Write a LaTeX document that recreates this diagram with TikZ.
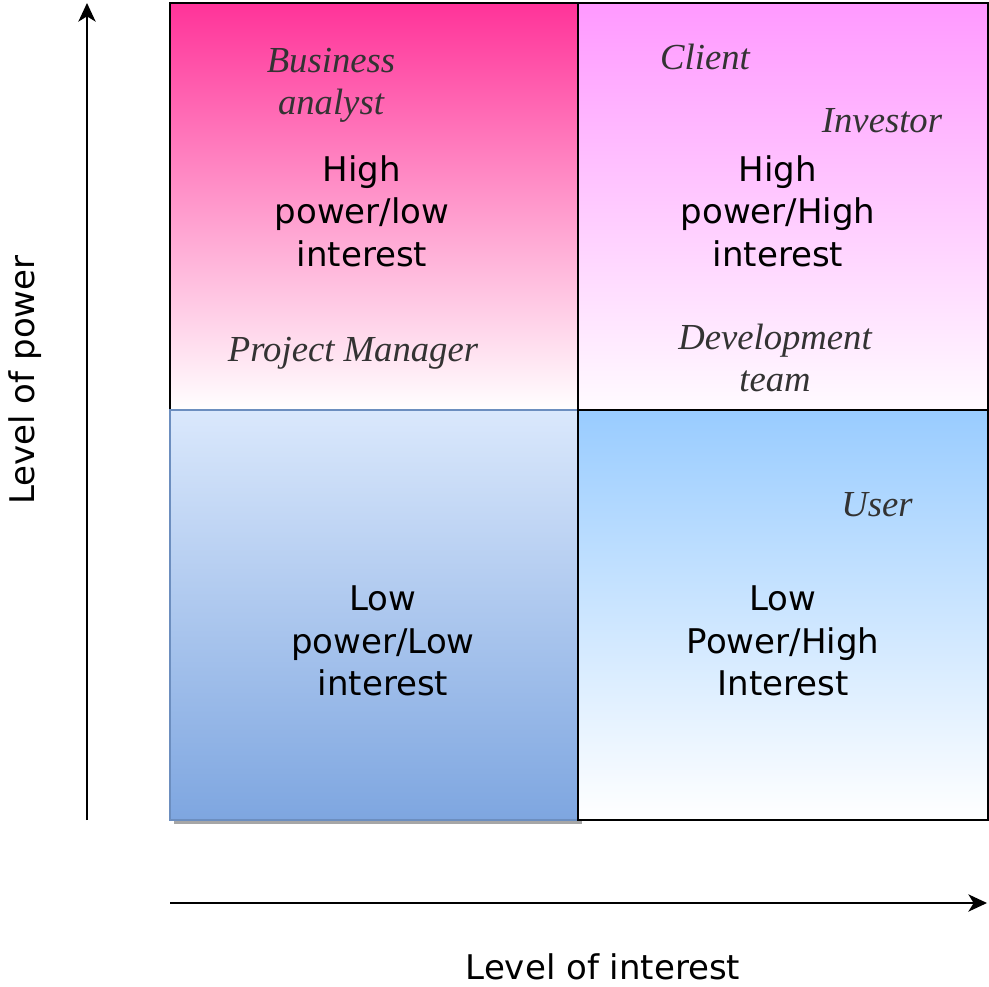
\documentclass[tikz,border=0pt]{standalone}
\usepackage{fontspec}
\setmainfont{Liberation Serif}
\newfontfamily\quadfont{DejaVu Sans}
\usetikzlibrary{arrows.meta}

\definecolor{hotpink}{RGB}{255,51,153}
\definecolor{lilac}{RGB}{255,153,255}
\definecolor{paleblue}{RGB}{218,232,252}
\definecolor{midblue}{RGB}{126,166,224}
\definecolor{edgeblue}{RGB}{108,142,191}
\definecolor{skyblue}{RGB}{153,204,255}
\definecolor{labelgray}{RGB}{51,51,51}

\begin{document}
\begin{tikzpicture}[x=0.75pt,y=-0.75pt,
    quadtext/.style={align=center,font=\quadfont\fontsize{25.5}{32}\selectfont,inner sep=0pt},
    who/.style={align=center,text=labelgray,font=\itshape\fontsize{27.5}{31.5}\selectfont,inner sep=0pt},
    axisline/.style={line width=1.1pt,-{Stealth[length=14pt,width=13pt,inset=4pt]}}]
    \useasboundingbox (0,0) rectangle (989,986);

    % Draw the four quadrants
    \shade[top color=hotpink,bottom color=white,draw=black,line width=1pt] (170,3) rectangle (578,410);
    \shade[top color=lilac,bottom color=white!96!lilac,draw=black,line width=1pt] (578,3) rectangle (988,410);
    \fill[black!35] (174,414) rectangle (582,824);
    \shade[top color=paleblue,bottom color=midblue,draw=edgeblue,line width=1pt] (170,410) rectangle (578,820);
    \shade[top color=skyblue,bottom color=white,draw=black,line width=1pt] (578,410) rectangle (988,820);

    % Quadrant captions
    \node[quadtext] (hplo) at (362,211) {High\\power/low\\interest};
    \node[quadtext] (hphi) at (778,211) {High\\power/High\\interest};
    \node[quadtext] (lplo) at (383,641) {Low\\power/Low\\interest};
    \node[quadtext] (lphi) at (783,641) {Low\\Power/High\\Interest};

    % Stakeholders
    \node[who] (analyst) at (331,85) {Business\\analyst};
    \node[who] (manager) at (353,353) {Project Manager};
    \node[who] (client) at (705,57) {Client};
    \node[who] (investor) at (882,121) {Investor};
    \node[who] (devteam) at (775,358) {Development\\team};
    \node[who] (user) at (877,505) {User};

    % Draw axes and labels
    \coordinate (ybot) at (87,820);
    \coordinate (ytop) at (87,3);
    \coordinate (xleft) at (170,903);
    \coordinate (xright) at (987,903);
    \draw[axisline] (ybot) -- (ytop);
    \draw[axisline] (xleft) -- (xright);
    \node[quadtext,rotate=90] (power) at (25,380) {Level of power};
    \node[quadtext] (interest) at (603,967) {Level of interest};
\end{tikzpicture}
\end{document}
